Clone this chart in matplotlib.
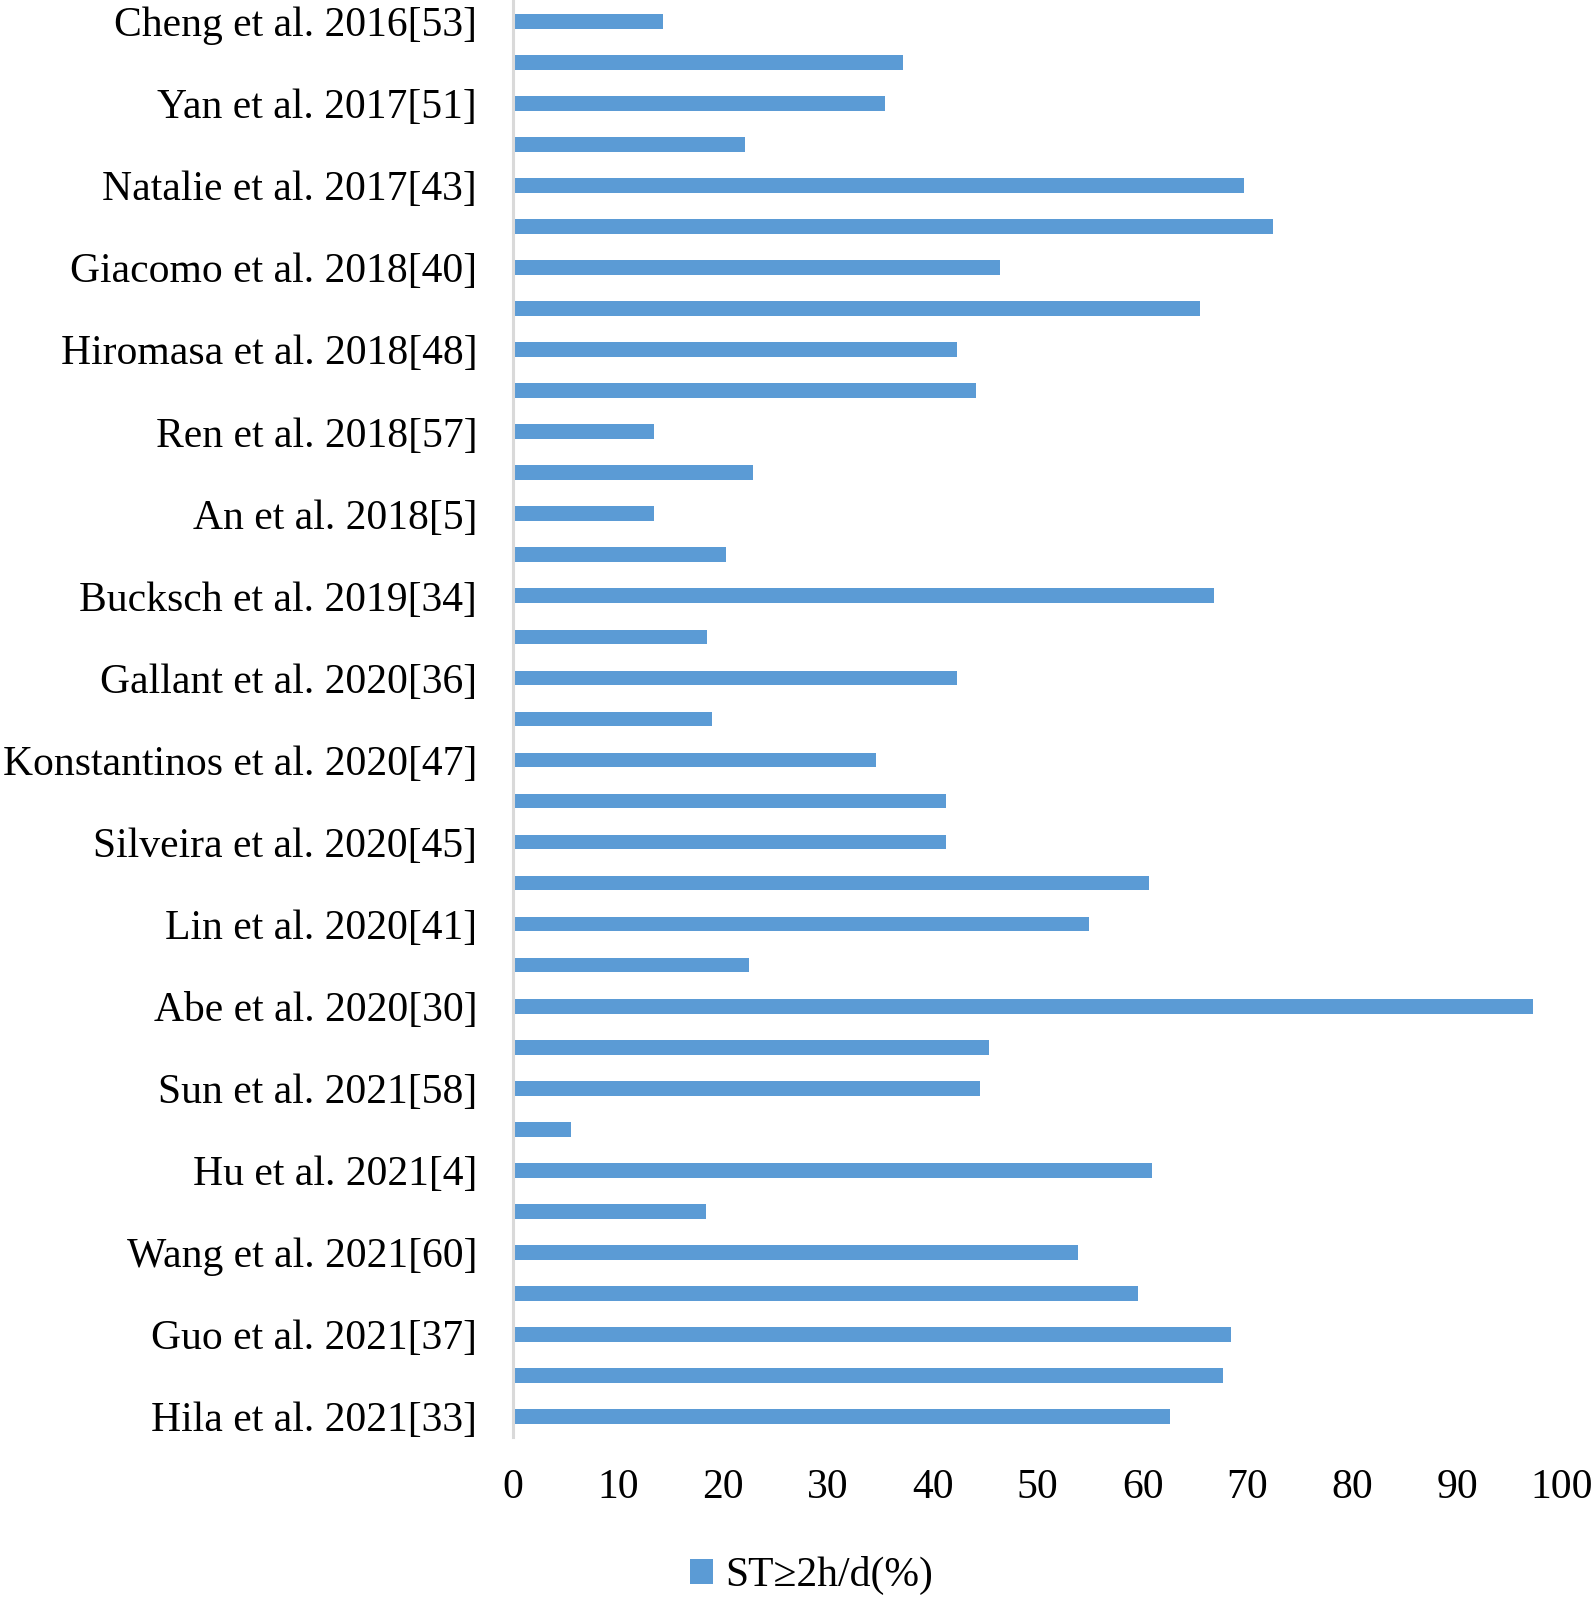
import matplotlib
matplotlib.use("Agg")
import matplotlib.pyplot as plt
import numpy as np

# studies top to bottom; only every other one is labelled in the source chart
labels = [
    "Cheng et al. 2016[53]", "", "Yan et al. 2017[51]", "",
    "Natalie et al. 2017[43]", "", "Giacomo et al. 2018[40]", "",
    "Hiromasa et al. 2018[48]", "", "Ren et al. 2018[57]", "",
    "An et al. 2018[5]", "", "Bucksch et al. 2019[34]", "",
    "Gallant et al. 2020[36]", "", "Konstantinos et al. 2020[47]", "",
    "Silveira et al. 2020[45]", "", "Lin et al. 2020[41]", "",
    "Abe et al. 2020[30]", "", "Sun et al. 2021[58]", "",
    "Hu et al. 2021[4]", "", "Wang et al. 2021[60]", "",
    "Guo et al. 2021[37]", "", "Hila et al. 2021[33]",
]
st_2h = [
    14.3, 37.2, 35.4, 22.1, 69.7, 72.4, 46.4, 65.5, 42.3, 44.1,
    13.4, 22.9, 13.4, 20.3, 66.8, 18.5, 42.3, 18.9, 34.6, 41.3,
    41.3, 60.6, 54.9, 22.5, 97.2, 45.4, 44.5, 5.5, 60.9, 18.4,
    53.8, 59.6, 68.4, 67.7, 62.6,
]
series_name = "ST≥2h/d(%)"

plt.rcParams['font.family'] = ['Liberation Serif', 'DejaVu Serif']

fig = plt.figure(figsize=(15.94, 16.03), dpi=100)
ax = fig.add_axes([0.322, 0.1036, 0.658, 0.8958])

y = np.arange(len(st_2h))
ax.barh(y, st_2h, height=0.36, color='#5B9BD5', label=series_name)

ax.set_xlim(0, 100)
ax.set_ylim(len(st_2h) - 0.5, -0.5)
ax.set_xticks(range(0, 101, 10))
ax.set_yticks(y, labels)
ax.tick_params(axis='both', length=0, labelsize=30)
ax.tick_params(axis='y', pad=26)
ax.tick_params(axis='x', pad=23)

for s in ['top', 'right', 'bottom']:
    ax.spines[s].set_visible(False)
ax.spines['left'].set_color('#D9D9D9')
ax.spines['left'].set_linewidth(2.2)

fig.legend(loc='center', bbox_to_anchor=(0.509, 0.017), frameon=False,
           fontsize=30, handlelength=0.55, handleheight=0.55, handletextpad=0.3)

fig.savefig("out.png", dpi=100)
